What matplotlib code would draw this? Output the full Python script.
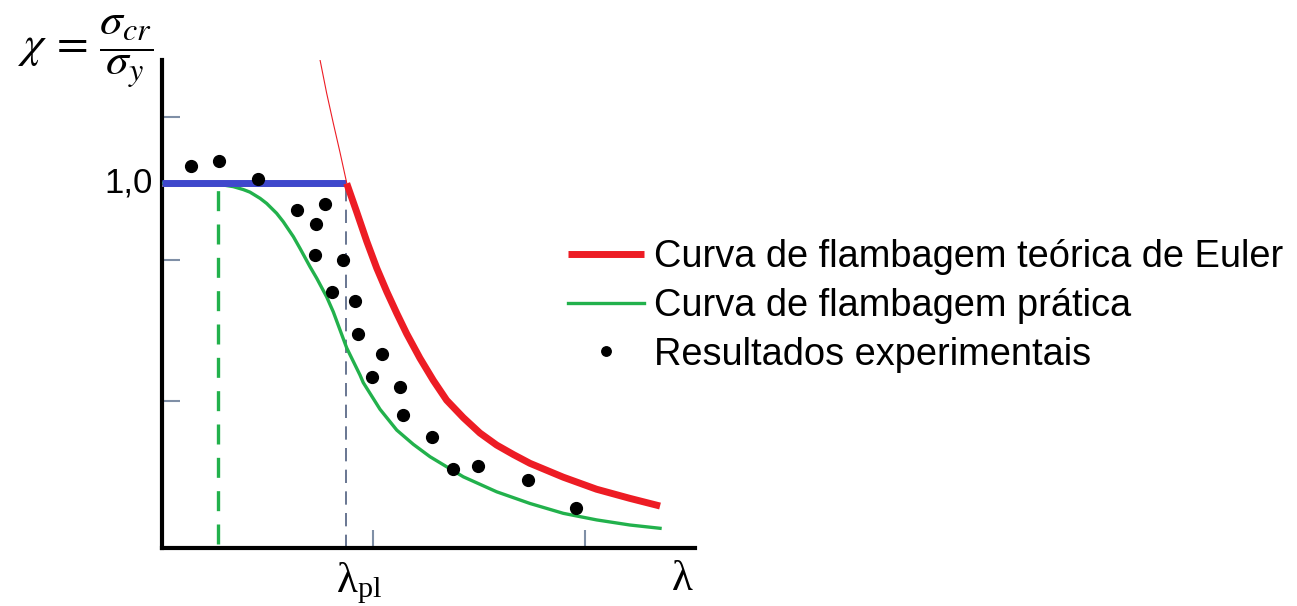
import matplotlib
matplotlib.use('Agg')
import matplotlib.pyplot as plt

# eixo x: esbeltez relativa (lambda_pl = 1), eixo y: chi
lam_pl = 1.0
lam_0 = 0.304

# curva de Euler (trecho valido, espesso)
euler_lam = [1.004, 1.058, 1.113, 1.167, 1.222, 1.276, 1.330, 1.402, 1.475,
             1.547, 1.638, 1.728, 1.819, 1.910, 2.0, 2.181, 2.362, 2.543,
             2.707]
euler_chi = [0.999, 0.921, 0.840, 0.767, 0.702, 0.643, 0.587, 0.520, 0.459,
             0.405, 0.357, 0.315, 0.282, 0.256, 0.232, 0.194, 0.161, 0.136,
             0.115]

# curva de Euler acima do patamar (fina)
euler_top_lam = [0.859, 0.895, 0.931, 0.967, 1.004]
euler_top_chi = [1.337, 1.246, 1.164, 1.085, 1.0]

# curva pratica
prat_lam = [0.0, 0.315, 0.388, 0.442, 0.478, 0.533, 0.569, 0.623, 0.659,
            0.714, 0.750, 0.804, 0.841, 0.895, 0.931, 1.004, 1.076, 1.094,
            1.185, 1.276, 1.366, 1.457, 1.638, 1.819, 2.0, 2.181, 2.362,
            2.543, 2.707]
prat_chi = [1.0, 0.996, 0.990, 0.982, 0.975, 0.958, 0.944, 0.917, 0.894,
            0.853, 0.821, 0.771, 0.739, 0.688, 0.647, 0.548, 0.474, 0.453,
            0.380, 0.323, 0.284, 0.250, 0.195, 0.154, 0.122, 0.095, 0.077,
            0.063, 0.054]

# resultados experimentais
exp_lam = [0.156, 0.308, 0.523, 0.732, 0.884, 0.839, 0.830, 0.984, 0.926,
           1.049, 1.064, 1.194, 1.139, 1.291, 1.308, 1.469, 1.580, 1.716,
           1.988, 2.248]
exp_chi = [1.047, 1.061, 1.011, 0.926, 0.943, 0.888, 0.802, 0.789, 0.702,
           0.678, 0.586, 0.532, 0.469, 0.442, 0.364, 0.303, 0.217, 0.225,
           0.186, 0.109]

yticks = [0.403, 0.789, 1.181]
xticks = [1.147, 2.299]

labels = ['Curva de flambagem teórica de Euler',
          'Curva de flambagem prática',
          'Resultados experimentais']

fig = plt.figure(figsize=(12.97, 6.06), dpi=100)
fig.patch.set_facecolor('white')
ax = fig.add_axes([162/1297, 58/606, 533/1297, 488/606])

ax.set_xlim(0, 2.897)
ax.set_ylim(0, 1.337)

for s in ['top', 'right']:
    ax.spines[s].set_visible(False)
for s in ['left', 'bottom']:
    ax.spines[s].set_linewidth(3)
    ax.spines[s].set_color('black')

ax.set_xticks(xticks)
ax.set_yticks(yticks)
ax.set_xticklabels([])
ax.set_yticklabels([])
ax.tick_params(direction='in', length=13, width=1.5, color='#7f8fa6')

# linhas auxiliares
ax.plot([lam_0, lam_0], [0.01, 0.985], color='#22b14c', lw=2.4,
        ls=(0, (6, 4)), zorder=2)
ax.plot([lam_pl, lam_pl], [0.0, 1.0], color='#4f5f7f', lw=1.2,
        ls=(0, (8, 5)), zorder=2)

# patamar
ax.plot([0, lam_pl], [0.992, 0.992], color='#d9a066', lw=1.2, zorder=3)
ax.plot([0, lam_pl], [1.0, 1.0], color='#3f48cc', lw=5, zorder=4,
        solid_capstyle='butt')

ax.plot(euler_top_lam, euler_top_chi, color='#ed1c24', lw=0.8, zorder=4)
l_eu, = ax.plot(euler_lam, euler_chi, color='#ed1c24', lw=5, zorder=4,
                solid_capstyle='butt', solid_joinstyle='round')
l_pr, = ax.plot(prat_lam, prat_chi, color='#22b14c', lw=2.4, zorder=3,
                solid_joinstyle='round')
l_ex, = ax.plot(exp_lam, exp_chi, 'o', color='black', ms=8.5, ls='none',
                zorder=5)

ax.text(-0.05, 1.0, '1,0', ha='right', va='center', fontsize=25,
        family='Liberation Sans')

ax.text(lam_pl + 0.07, -0.035, r'$\mathregular{\lambda_{pl}}$', ha='center',
        va='top', fontsize=31, family='Liberation Serif')
ax.text(2.83, -0.035, 'λ', ha='center', va='top', fontsize=31,
        family='Liberation Serif')

fig.text(18/1297, 1 - 52/606, r'$\chi\,=\,\dfrac{\sigma_{cr}}{\sigma_y}$',
         ha='left', va='center', fontsize=33, math_fontfamily='stix')

leg = fig.legend([l_eu, l_pr, l_ex], labels, loc='center left',
                 bbox_to_anchor=(568/1297, 1 - 306/606), frameon=False,
                 prop={'family': 'Liberation Sans', 'size': 27.4},
                 handlelength=2.0, handletextpad=0.25, labelspacing=0.33,
                 borderaxespad=0, borderpad=0, markerscale=0.8)

plt.savefig('out.png', dpi=100)
